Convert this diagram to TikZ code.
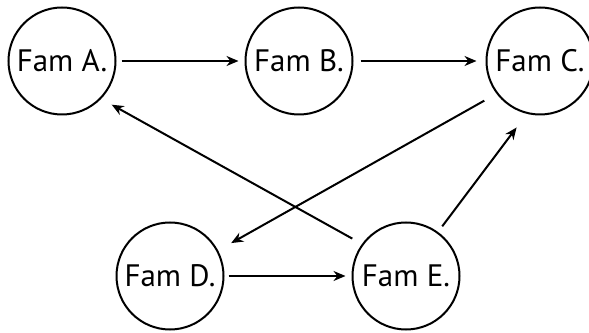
\documentclass[tikz,border=0pt]{standalone}
\usepackage{fontspec}
\setmainfont{PT Sans}
\usetikzlibrary{positioning, arrows.meta}

\begin{document}
\begin{tikzpicture}[-{Stealth[length=12pt,width=10pt]},
auto,
line width=2pt,
node distance=237pt,
fam/.style={draw, circle, fill=white, minimum size=107pt, inner sep=0pt, font=\fontsize{31}{36}\selectfont}]

\useasboundingbox (0,0) rectangle (589pt,332pt);

\node[fam]						(A) at (62pt,271pt)		{Fam A.};
\node[fam]						(B)[right of=A]			{Fam B.};
\node[fam]						(C)[right of=B, xshift=4pt]		{Fam C.};

\node[fam]						(D)[below of=A, xshift=108pt, yshift=22pt]		{Fam D.};
\node[fam]						(E)[right of=D, xshift=-1pt]		{Fam E.};


\path
 (A)		edge[shorten <=5pt, shorten >=6pt]		(B)
 (B)		edge[shorten <=7pt, shorten >=9pt]		(C)
 (D)		edge[shorten <=4pt, shorten >=6pt]		(E)

 (E.144)	edge[shorten <=11pt, shorten >=12pt]	(A.-44)
 (C.217)	edge[shorten <=14pt, shorten >=15pt]	(D.28)
 (E.54)		edge[shorten <=7pt, shorten >=17pt]		(C.256);

\end{tikzpicture}
\end{document}
